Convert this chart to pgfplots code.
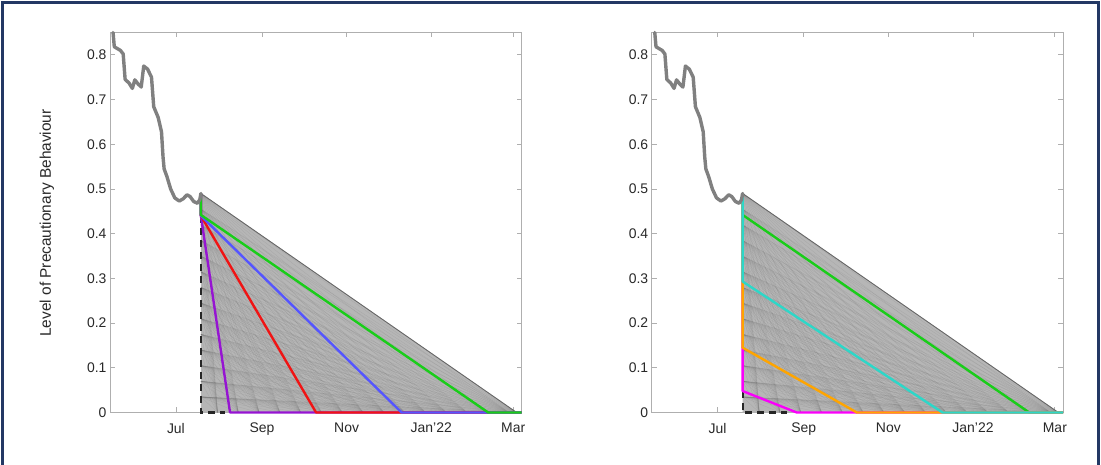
\documentclass[border=0pt]{standalone}
\usepackage{fontspec}
\setmainfont{Liberation Sans}
\usepackage{pgfplots}
\pgfplotsset{compat=1.18}
\definecolor{axgray}{RGB}{175,175,175}
\definecolor{txt}{RGB}{40,40,40}
\definecolor{histgray}{RGB}{128,128,128}
\definecolor{fanfill}{RGB}{182,182,182}
\definecolor{cgreen}{RGB}{25,205,25}
\definecolor{cblue}{RGB}{85,85,255}
\definecolor{cred}{RGB}{240,20,20}
\definecolor{cpurple}{RGB}{150,20,210}
\definecolor{ccyan}{RGB}{45,215,200}
\definecolor{corange}{RGB}{255,165,0}
\definecolor{cmagenta}{RGB}{250,0,250}
\definecolor{frame}{RGB}{35,56,100}
\pgfplotsset{
  myax/.style={
    scale only axis, anchor=south west,
    width=411.5bp, height=380bp,
    xmin=-47.5, xmax=249, ymin=0, ymax=0.85,
    xtick={0,62,123,184,243},
    xticklabels={Jul,Sep,Nov,Jan'22,Mar},
    ytick={0,0.1,0.2,0.3,0.4,0.5,0.6,0.7,0.8},
    yticklabels={0,0.1,0.2,0.3,0.4,0.5,0.6,0.7,0.8},
    tick align=inside,
    xtick pos=both, ytick pos=both,
    major tick length=5bp,
    axis line style={draw=axgray, line width=0.9bp},
    tick style={draw=axgray, line width=0.8bp},
    tick label style={font=\fontsize{14}{16}\selectfont, color=txt},
    xticklabel style={yshift=-7bp},
    /pgf/number format/assume math mode=true,
    clip=false,
  },
  fanline/.style={draw=black!60, draw opacity=0.16, line width=0.35bp, forget plot},
  colline/.style={line width=2.4bp, line join=round, forget plot},
  histline/.style={draw=histgray, line width=3.4bp, line join=round, line cap=round, forget plot},
}
\pgfplotstableread{
x y
-45.3 0.850
-44.4 0.818
-40.0 0.810
-38.0 0.802
-36.6 0.745
-33.8 0.737
-31.4 0.725
-29.6 0.744
-27.3 0.735
-25.0 0.728
-23.2 0.775
-20.4 0.768
-17.6 0.750
-16.0 0.684
-12.8 0.660
-10.4 0.628
-9.3 0.572
-8.5 0.545
-6.4 0.527
-3.8 0.500
-0.8 0.480
2.4 0.473
5.2 0.478
8.0 0.487
10.2 0.483
12.8 0.472
15.5 0.468
17.2 0.476
18.0 0.490
}\histdata
\begin{document}
\begin{tikzpicture}
\path[use as bounding box] (0,0) rectangle (1101bp,465bp);
\draw[frame, line width=2.2bp] (2.5bp,0) -- (2.5bp,462.5bp) -- (1098.5bp,462.5bp) -- (1098.5bp,0);
\node[rotate=90, font=\fontsize{15.5}{18}\selectfont, color=txt] at (47bp,242bp) {Level of Precautionary Behaviour};

% ---------- left panel ----------
\begin{axis}[myax, at={(110bp,52.5bp)}]
\addplot[fill=fanfill, draw=none, forget plot] coordinates {(18,0) (18,0.49) (245.5,0) (18,0)};
\foreach \y in {0.035,0.07,0.105,0.14,0.175,0.21,0.245,0.28,0.315,0.35,0.385,0.42,0.455,0.49}{
  \foreach \T in {30,45,60,75,90,105,120,135,150,165,180,195,210,225,240,245.5}{
    \addplot[fanline] coordinates {(18,\y) (\T,0)};
  }
}
\addplot[draw=black!60, line width=0.9bp, forget plot] coordinates {(18,0.49) (245.5,0)};
\addplot[draw=black!85, line width=2.2bp, dash pattern=on 7bp off 5bp, forget plot] coordinates {(18,0.44) (18,0) (35,0)};
\addplot[colline, draw=cpurple] coordinates {(18,0.49) (18,0.440) (39,0) (249,0)};
\addplot[colline, draw=cred] coordinates {(18,0.49) (18,0.440) (101,0) (249,0)};
\addplot[colline, draw=cblue] coordinates {(18,0.49) (18,0.440) (162.6,0) (249,0)};
\addplot[colline, draw=cgreen] coordinates {(18,0.49) (18,0.442) (225,0) (249,0)};
\addplot[histline] table[x=x, y=y] {\histdata};
\end{axis}

% ---------- right panel ----------
\begin{axis}[myax, at={(651.7bp,52.5bp)}]
\addplot[fill=fanfill, draw=none, forget plot] coordinates {(18,0) (18,0.49) (245.5,0) (18,0)};
\foreach \y in {0.035,0.07,0.105,0.14,0.175,0.21,0.245,0.28,0.315,0.35,0.385,0.42,0.455,0.49}{
  \foreach \T in {30,45,60,75,90,105,120,135,150,165,180,195,210,225,240,245.5}{
    \addplot[fanline] coordinates {(18,\y) (\T,0)};
  }
}
\addplot[draw=black!60, line width=0.9bp, forget plot] coordinates {(18,0.49) (245.5,0)};
\addplot[draw=black!85, line width=2.2bp, dash pattern=on 7bp off 5bp, forget plot] coordinates {(18,0.048) (18,0) (50,0)};
\addplot[colline, draw=cgreen] coordinates {(18,0.49) (18,0.442) (224.5,0) (249,0)};
\addplot[colline, draw=cmagenta] coordinates {(18,0.49) (18,0.048) (57,0) (249,0)};
\addplot[colline, draw=corange] coordinates {(18,0.49) (18,0.145) (100.3,0) (249,0)};
\addplot[colline, draw=ccyan] coordinates {(18,0.49) (18,0.293) (162,0) (249,0)};
\addplot[histline] table[x=x, y=y] {\histdata};
\end{axis}
\end{tikzpicture}
\end{document}
